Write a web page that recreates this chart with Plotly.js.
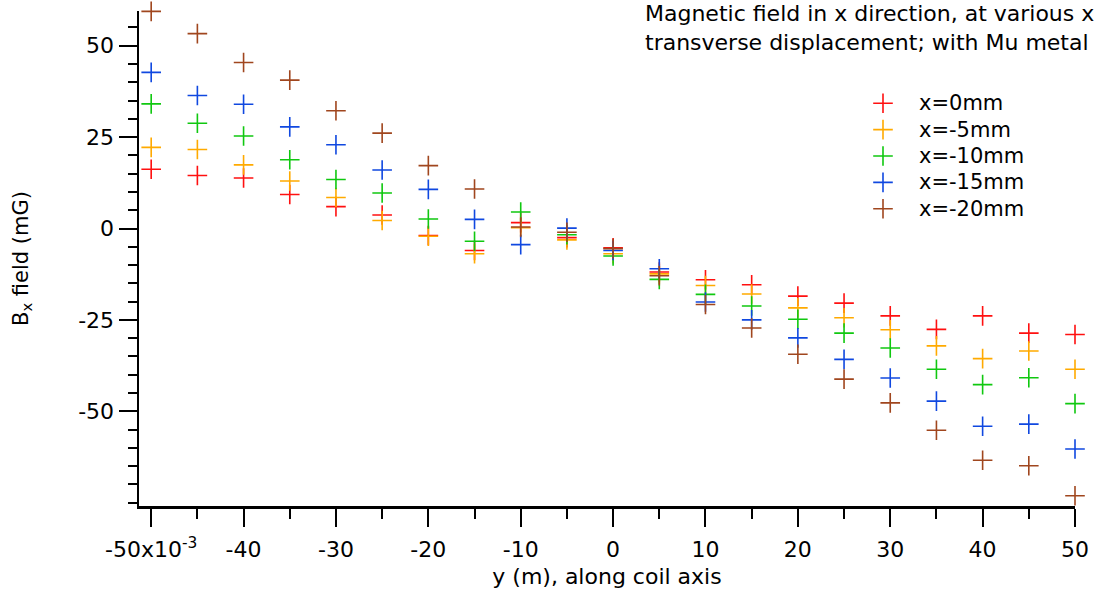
<!DOCTYPE html>
<html>
<head>
<meta charset="utf-8">
<script src="https://cdn.plot.ly/plotly-3.0.1.min.js"></script>
<style>
  html, body { margin: 0; padding: 0; background: #fff; }
  #chart { width: 1109px; height: 595px; }
</style>
</head>
<body>
<div id="chart"></div>
<script>
// Position along coil axis (m)
const yPos = [-0.050, -0.045, -0.040, -0.035, -0.030, -0.025, -0.020, -0.015, -0.010, -0.005, 0.000,
              0.005, 0.010, 0.015, 0.020, 0.025, 0.030, 0.035, 0.040, 0.045, 0.050];

// Bx field (mG) at each transverse displacement
const bx_x0   = [16.2, 14.5, 13.8, 9.3, 6.0, 3.7, -1.9, -6.0, 1.6, -2.5, -5.3, -11.9, -14.0, -15.4, -18.5, -20.4, -23.9, -27.6, -23.9, -28.6, -29.0];
const bx_xm5  = [22.2, 21.6, 17.4, 13.0, 8.5, 2.2, -2.1, -6.9, 0.2, -3.1, -6.9, -12.4, -15.6, -17.9, -21.7, -24.4, -27.7, -32.1, -35.6, -33.5, -38.5];
const bx_xm10 = [34.1, 28.8, 25.3, 18.8, 13.4, 9.7, 2.6, -3.5, 4.5, -1.7, -7.5, -13.9, -18.0, -21.2, -24.8, -28.6, -32.7, -38.5, -42.7, -40.8, -47.9];
const bx_xm15 = [42.7, 36.4, 34.0, 27.8, 22.9, 16.0, 10.7, 2.5, -4.4, 0.1, -6.0, -11.0, -20.1, -25.0, -29.9, -35.8, -40.9, -47.2, -54.1, -53.5, -60.3];
const bx_xm20 = [59.4, 53.3, 45.4, 40.6, 32.2, 26.1, 17.2, 10.8, 0.4, -1.0, -5.5, -12.9, -20.8, -27.2, -34.4, -41.2, -47.7, -55.2, -63.4, -64.9, -73.1];

const seriesNames  = ['x=0mm', 'x=-5mm', 'x=-10mm', 'x=-15mm', 'x=-20mm'];
const seriesValues = [bx_x0, bx_xm5, bx_xm10, bx_xm15, bx_xm20];
const seriesColors = ['#ff1010', '#ffaa00', '#10c810', '#1048e0', '#a0461e'];

const xTickVals = [-0.05, -0.04, -0.03, -0.02, -0.01, 0, 0.01, 0.02, 0.03, 0.04, 0.05];
const xTickText = ['-50x10<sup>-3</sup>', '-40', '-30', '-20', '-10', '0', '10', '20', '30', '40', '50'];
const yTickVals = [50, 25, 0, -25, -50];
const yTickText = ['50', '25', '0', '-25', '-50'];

const FONT = 'DejaVu Sans, Arial, sans-serif';

const traces = seriesNames.map((name, i) => ({
  type: 'scatter',
  mode: 'markers',
  name: '<span style="font-size:21px">' + name + '</span>',
  x: yPos,
  y: seriesValues[i],
  cliponaxis: false,
  marker: {
    symbol: 'cross-thin-open',
    size: 14,
    color: seriesColors[i],
    line: { color: seriesColors[i], width: 1.6 }
  }
}));

const layout = {
  width: 1109,
  height: 595,
  paper_bgcolor: '#ffffff',
  plot_bgcolor: '#ffffff',
  margin: { l: 139, r: 34, t: 11, b: 89 },
  font: { family: FONT, size: 22, color: '#000' },
  title: {
    text: 'Magnetic field in x direction, at various x<br>transverse displacement; with Mu metal',
    font: { family: FONT, size: 22, color: '#000' },
    xref: 'container', x: 645 / 1109, xanchor: 'left',
    yref: 'container', y: 1, yanchor: 'top',
    pad: { t: 21 }
  },
  xaxis: {
    range: [-0.05132, 0.05],
    tickmode: 'array',
    tickvals: xTickVals,
    ticktext: xTickText,
    ticks: 'outside', ticklen: 18, tickwidth: 2, tickcolor: '#000',
    minor: { tickmode: 'linear', dtick: 0.005, tick0: 0, ticks: 'outside', ticklen: 10, tickwidth: 2, tickcolor: '#000' },
    showline: true, linecolor: '#000', linewidth: 2.5,
    showgrid: false, zeroline: false,
    ticklabelstandoff: 4,
    tickfont: { family: FONT, size: 22, color: '#000' },
    title: { text: 'y (m), along coil axis', font: { family: FONT, size: 22, color: '#000' }, standoff: 8 }
  },
  yaxis: {
    range: [-75.9, 59.5],
    tickmode: 'array',
    tickvals: yTickVals,
    ticktext: yTickText,
    ticks: 'outside', ticklen: 18, tickwidth: 2, tickcolor: '#000',
    minor: { tickmode: 'linear', dtick: 5, tick0: 0, ticks: 'outside', ticklen: 9, tickwidth: 2, tickcolor: '#000' },
    showline: true, linecolor: '#000', linewidth: 2.5,
    showgrid: false, zeroline: false,
    tickfont: { family: FONT, size: 22, color: '#000' },
    title: { text: 'B<sub>x</sub> field (mG)', font: { family: FONT, size: 21, color: '#000' }, standoff: 44 }
  },
  showlegend: true,
  legend: {
    xref: 'paper', yref: 'paper',
    x: (847 - 139) / 936, xanchor: 'left',
    y: 1 - (85 - 11) / 495, yanchor: 'top',
    bgcolor: 'rgba(0,0,0,0)', borderwidth: 0,
    font: { family: FONT, size: 18, color: '#000' },
    itemwidth: 62
  }
};

Plotly.newPlot('chart', traces, layout, { staticPlot: true, displayModeBar: false });
</script>
</body>
</html>
